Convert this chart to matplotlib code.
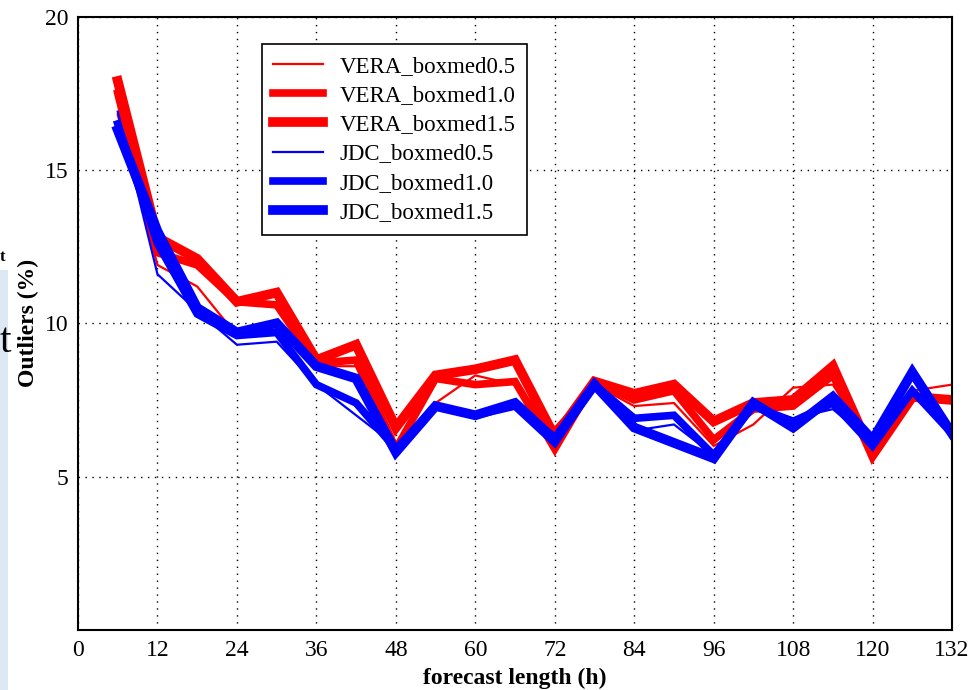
import matplotlib
matplotlib.use("Agg")
import matplotlib.pyplot as plt
from matplotlib.patches import Rectangle

plt.rcParams['font.family'] = ['Liberation Serif', 'DejaVu Serif']

# forecast lengths (h)
hours = [6, 12, 18, 24, 30, 36, 42, 48, 54, 60, 66, 72, 78, 84, 90, 96,
         102, 108, 114, 120, 126, 132]

vera_05 = [16.8, 11.9, 11.2, 9.6, 9.8, 8.6, 8.6, 6.0, 7.4, 8.3, 8.0, 6.6,
           8.0, 7.3, 7.4, 6.0, 6.7, 7.9, 8.0, 5.9, 7.8, 8.0]
vera_10 = [17.5, 12.3, 11.9, 10.7, 10.6, 8.7, 8.8, 5.9, 8.2, 8.0, 8.1, 5.9,
           8.1, 7.5, 7.8, 6.2, 7.2, 7.3, 8.3, 5.8, 7.6, 7.5]
vera_15 = [17.9, 12.8, 12.1, 10.7, 11.0, 8.8, 9.3, 6.6, 8.3, 8.5, 8.8, 6.3,
           8.1, 7.7, 8.0, 6.8, 7.4, 7.5, 8.6, 5.7, 7.6, 7.5]
jdc_05 = [16.9, 11.6, 10.4, 9.3, 9.4, 8.0, 7.0, 6.0, 7.2, 6.9, 7.3, 6.4,
          8.0, 6.5, 6.7, 5.7, 7.3, 6.9, 7.2, 6.1, 7.8, 6.6]
jdc_10 = [16.5, 12.6, 10.3, 9.6, 9.7, 8.0, 7.4, 5.9, 7.3, 7.0, 7.3, 6.1,
          8.0, 6.9, 7.0, 5.7, 7.3, 6.8, 7.4, 6.0, 7.8, 6.4]
jdc_15 = [16.3, 13.0, 10.5, 9.7, 10.0, 8.6, 8.2, 5.8, 7.3, 7.0, 7.4, 6.2,
          8.0, 6.6, 6.1, 5.6, 7.4, 6.6, 7.6, 6.2, 8.4, 6.4]

series = [
    ('VERA_boxmed0.5', vera_05, 'red', 1.6),
    ('VERA_boxmed1.0', vera_10, 'red', 5.5),
    ('VERA_boxmed1.5', vera_15, 'red', 7.0),
    ('JDC_boxmed0.5', jdc_05, 'blue', 1.6),
    ('JDC_boxmed1.0', jdc_10, 'blue', 5.5),
    ('JDC_boxmed1.5', jdc_15, 'blue', 7.0),
]

fig = plt.figure(figsize=(9.69, 6.9), dpi=100)
ax = fig.add_axes([0.0805, 0.087, 0.902, 0.889])

for name, vals, col, lw in series:
    ax.plot(hours, vals, color=col, lw=lw, label=name, solid_joinstyle='miter')

ax.set_xlim(0, 132)
ax.set_ylim(0, 20)
ax.set_xticks(range(0, 133, 12))
ax.set_yticks([5, 10, 15, 20])
ax.tick_params(labelsize=17, length=0, pad=7)
ax.grid(True, color='black', linestyle=(0, (1, 4)), lw=1.0)
for s in ax.spines.values():
    s.set_linewidth(1.5)

ax.set_xlabel('forecast length (h)', fontsize=17, fontweight='bold', labelpad=5)
ax.set_ylabel('Outliers (%)', fontsize=17, fontweight='bold', labelpad=4)

leg = ax.legend(loc='upper left', bbox_to_anchor=(0.21, 0.955), fontsize=16.5,
                fancybox=False, framealpha=1, edgecolor='black',
                handlelength=2.2, labelspacing=0.36, borderpad=0.5,
                handletextpad=0.7, borderaxespad=0)
leg.get_frame().set_linewidth(1.2)

# leftover of neighbouring slide on the left edge
fig.patches.append(Rectangle((0, 0), 8 / 969, 420 / 690, transform=fig.transFigure,
                             facecolor='#dde8f5', edgecolor='none', zorder=0))
fig.text(0.0, 0.505, 't', fontsize=30, ha='left', va='center')
fig.text(0.0, 0.628, 't', fontsize=12, fontweight='bold', ha='left', va='center')

fig.savefig('out.png', dpi=100)
